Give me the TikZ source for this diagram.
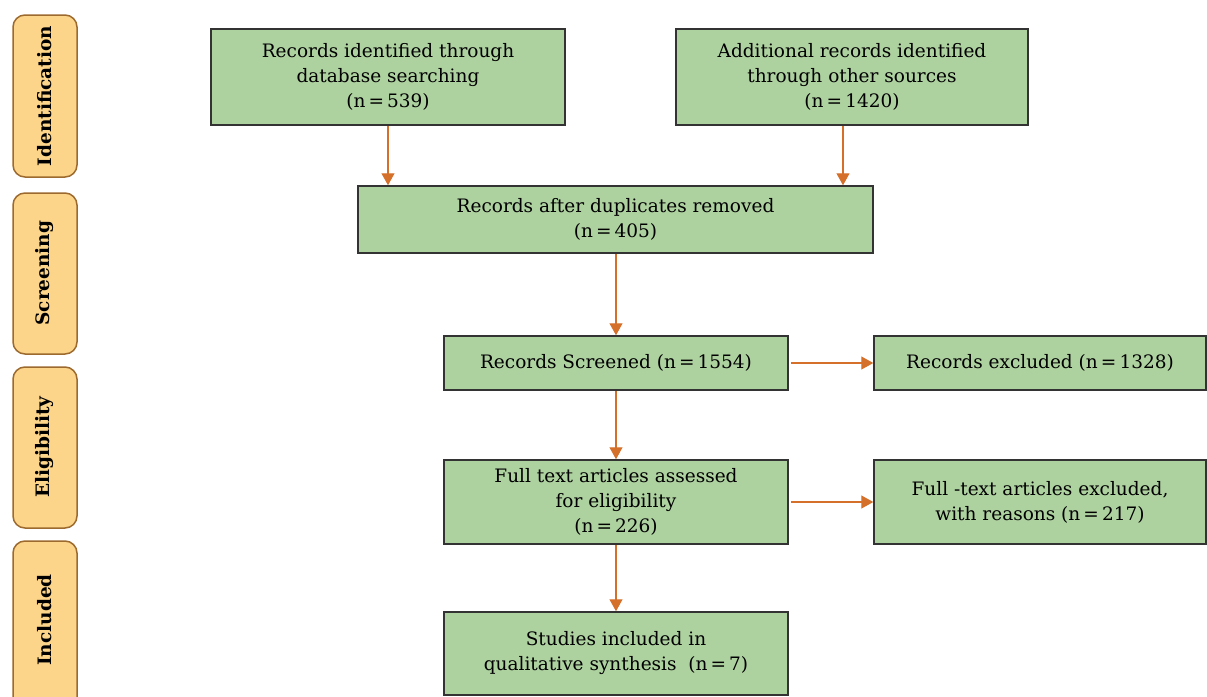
\documentclass[tikz,border=0pt]{standalone}
\usepackage{fontspec}
\setmainfont{DejaVu Serif}
\usetikzlibrary{arrows.meta}
\definecolor{boxgreen}{HTML}{AED1A0}
\definecolor{sidefill}{HTML}{FDD58A}
\definecolor{sidedraw}{HTML}{9C6A2E}
\definecolor{arr}{HTML}{D4702A}
\begin{document}
\begin{tikzpicture}[x=1pt,y=-1pt,
  box/.style={draw=black!80,line width=1.5pt,fill=boxgreen,inner sep=0pt,align=center,font=\fontsize{18.5}{25}\selectfont},
  side/.style={draw=sidedraw,line width=1.5pt,fill=sidefill,rounded corners=12pt},
  sidetext/.style={rotate=90,font=\fontsize{18.5}{20}\selectfont\bfseries},
  arrow/.style={draw=arr,line width=1.3pt,-{Triangle[length=12pt,width=13pt]}}]
\useasboundingbox (0,0) rectangle (1207,696);
% side labels
\draw[side] (13,15) rectangle (77,177);
\node[sidetext] (sid) at (45,96) {Identification};
\draw[side] (13,193) rectangle (77,354);
\node[sidetext] (ssc) at (45,273) {Screening};
\draw[side] (13,367) rectangle (77,528);
\node[sidetext] (sel) at (45,447) {Eligibility};
\draw[side] (13,541) rectangle (77,710);
\node[sidetext] (sin) at (45,620) {Included};
% boxes
\node[box,minimum width=354pt,minimum height=96pt] (b1) at (388,77) {Records identified through\\database searching\\(n\,=\,539)};
\node[box,minimum width=352pt,minimum height=96pt] (b2) at (852,77) {Additional records identified\\through other sources\\(n\,=\,1420)};
\node[box,minimum width=515pt,minimum height=67pt] (b3) at (615.5,219.5) {Records after duplicates removed\\(n\,=\,405)};
\node[box,minimum width=344pt,minimum height=54pt] (b4) at (616,363) {Records Screened (n\,=\,1554)};
\node[box,minimum width=332pt,minimum height=54pt] (b5) at (1040,363) {Records excluded (n\,=\,1328)};
\node[box,minimum width=344pt,minimum height=84pt] (b6) at (616,502) {Full text articles assessed\\for eligibility\\(n\,=\,226)};
\node[box,minimum width=332pt,minimum height=84pt] (b7) at (1040,502) {Full -text articles excluded,\\with reasons (n\,=\,217)};
\node[box,minimum width=344pt,minimum height=83pt] (b8) at (616,653.5) {Studies included in\\qualitative synthesis~~(n\,=\,7)};
% arrows
\draw[arrow] (b1.south) -- (b1.south |- b3.north);
\draw[arrow] ([xshift=-9pt]b2.south) -- ([xshift=-9pt]b2.south |- b3.north);
\draw[arrow] (b4.north |- b3.south) -- (b4.north);
\draw[arrow] (b4.south) -- (b6.north);
\draw[arrow] (b6.south) -- (b8.north);
\draw[arrow] ([xshift=2pt]b4.east) -- (b5.west);
\draw[arrow] ([xshift=2pt]b6.east) -- (b7.west);
\end{tikzpicture}
\end{document}
